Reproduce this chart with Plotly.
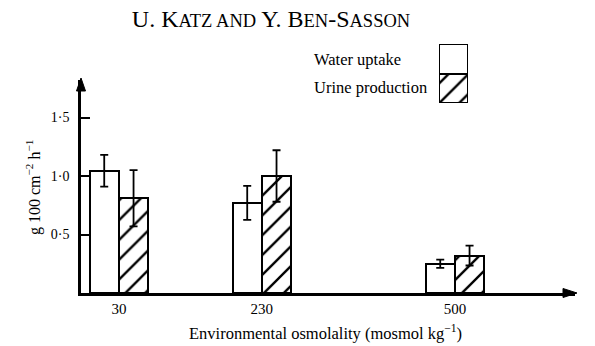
import plotly.graph_objects as go

# Data
osmolality = [30, 230, 500]
tick_labels = ["30", "230", "500"]
water_uptake = [1.045, 0.77, 0.25]
water_err = [0.135, 0.145, 0.035]
urine_production = [0.81, 1.0, 0.32]
urine_err = [0.24, 0.22, 0.085]
y_tickvals = [0.5, 1.0, 1.5]
y_ticktext = ["0·5", "1·0", "1·5"]

FONT = "Liberation Serif"
BAR_W = 41

W, H = 595, 346
ML, MR, MT, MB = 81, 20, 30, 53
plot_h = H - MT - MB
pw = W - ML - MR
main_top_frac = (293 - 80) / plot_h

HATCH = dict(shape="/", size=14, solidity=0.17, fgcolor="black", bgcolor="white", fgopacity=1)
OUTLINE = dict(color="black", width=2)

fig = go.Figure()

fig.add_trace(go.Bar(
    x=osmolality, y=water_uptake, width=BAR_W, offset=-BAR_W,
    marker=dict(color="white", line=OUTLINE),
    error_y=dict(type="data", array=water_err, color="black", thickness=1.8, width=4),
    name="Water uptake", showlegend=False,
))
fig.add_trace(go.Bar(
    x=osmolality, y=urine_production, width=BAR_W, offset=0,
    marker=dict(color="white", line=OUTLINE, pattern=HATCH),
    error_y=dict(type="data", array=urine_err, color="black", thickness=1.8, width=4),
    name="Urine production", showlegend=False,
))

# legend key boxes on a small auxiliary axis
fig.add_trace(go.Bar(
    x=[0.5], y=[1], base=[1], width=1, offset=-0.5, xaxis="x2", yaxis="y2",
    marker=dict(color="white", line=OUTLINE), showlegend=False,
))
fig.add_trace(go.Bar(
    x=[0.5], y=[1], base=[0], width=1, offset=-0.5, xaxis="x2", yaxis="y2",
    marker=dict(color="white", line=OUTLINE, pattern=HATCH), showlegend=False,
))


def px_x(p):
    return (p - ML) / pw


def px_y(p):
    return (H - MB - p) / plot_h


x_range = [-23, 668]
fig.update_layout(
    width=W, height=H,
    margin=dict(l=ML, r=MR, t=MT, b=MB, autoexpand=False),
    paper_bgcolor="white", plot_bgcolor="white",
    font=dict(family=FONT, color="black", size=14),
    bargap=0,
    title=dict(
        text="U. K<span style='font-size:18.5px'>ATZ AND</span> Y. B<span style='font-size:18.5px'>EN</span>-S<span style='font-size:18.5px'>ASSON</span>",
        x=271 / W, xref="container", xanchor="center",
        y=1 - 19 / H, yref="container", yanchor="middle",
        font=dict(size=24, family=FONT, color="black"),
    ),
    xaxis=dict(range=x_range, tickvals=osmolality, ticktext=tick_labels, ticks="",
               showline=True, linecolor="black", linewidth=2.5, showgrid=False, zeroline=False,
               tickfont=dict(size=15, family=FONT), automargin=False),
    yaxis=dict(domain=[0, main_top_frac], range=[0, (293 - 80) / 117.0],
               tickvals=y_tickvals, ticktext=y_ticktext, ticks="inside", ticklen=9, tickwidth=2,
               tickcolor="black", showline=True, linecolor="black", linewidth=2.5,
               showgrid=False, zeroline=False, tickfont=dict(size=14, family=FONT),
               ticklabelstandoff=6, automargin=False),
    xaxis2=dict(domain=[px_x(439), px_x(468)], range=[0, 1], anchor="y2", visible=False),
    yaxis2=dict(domain=[px_y(103), px_y(44)], range=[0, 2], anchor="x2", visible=False),
)

anns = [
    dict(text="Water uptake", xref="paper", yref="paper", x=px_x(312), y=px_y(60),
         showarrow=False, xanchor="left", yanchor="middle", font=dict(size=16.5, family=FONT)),
    dict(text="Urine production", xref="paper", yref="paper", x=px_x(312), y=px_y(87),
         showarrow=False, xanchor="left", yanchor="middle", font=dict(size=16.5, family=FONT)),
    dict(text="Environmental osmolality (mosmol kg<sup>−1</sup>)", xref="paper", yref="paper",
         x=px_x(325), y=px_y(332), showarrow=False, xanchor="center", yanchor="middle",
         font=dict(size=16.5, family=FONT)),
    dict(text="g 100 cm<sup>−2</sup> h<sup>−1</sup>", xref="paper", yref="paper",
         x=px_x(33), y=px_y(188), showarrow=False, textangle=-90, xanchor="center", yanchor="middle",
         font=dict(size=16, family=FONT)),
]
fig.update_layout(annotations=anns)

# axis arrowheads
up = [(81, 78), (76.5, 91), (85.5, 91)]
right = [(577, 293), (563, 288.5), (563, 297.5)]
for tri in (up, right):
    path = "M " + " L ".join(f"{px_x(a):.5f},{px_y(b):.5f}" for a, b in tri) + " Z"
    fig.add_shape(type="path", path=path, xref="paper", yref="paper",
                  fillcolor="black", line=dict(color="black", width=1), layer="above")

fig.write_html("out.html")
